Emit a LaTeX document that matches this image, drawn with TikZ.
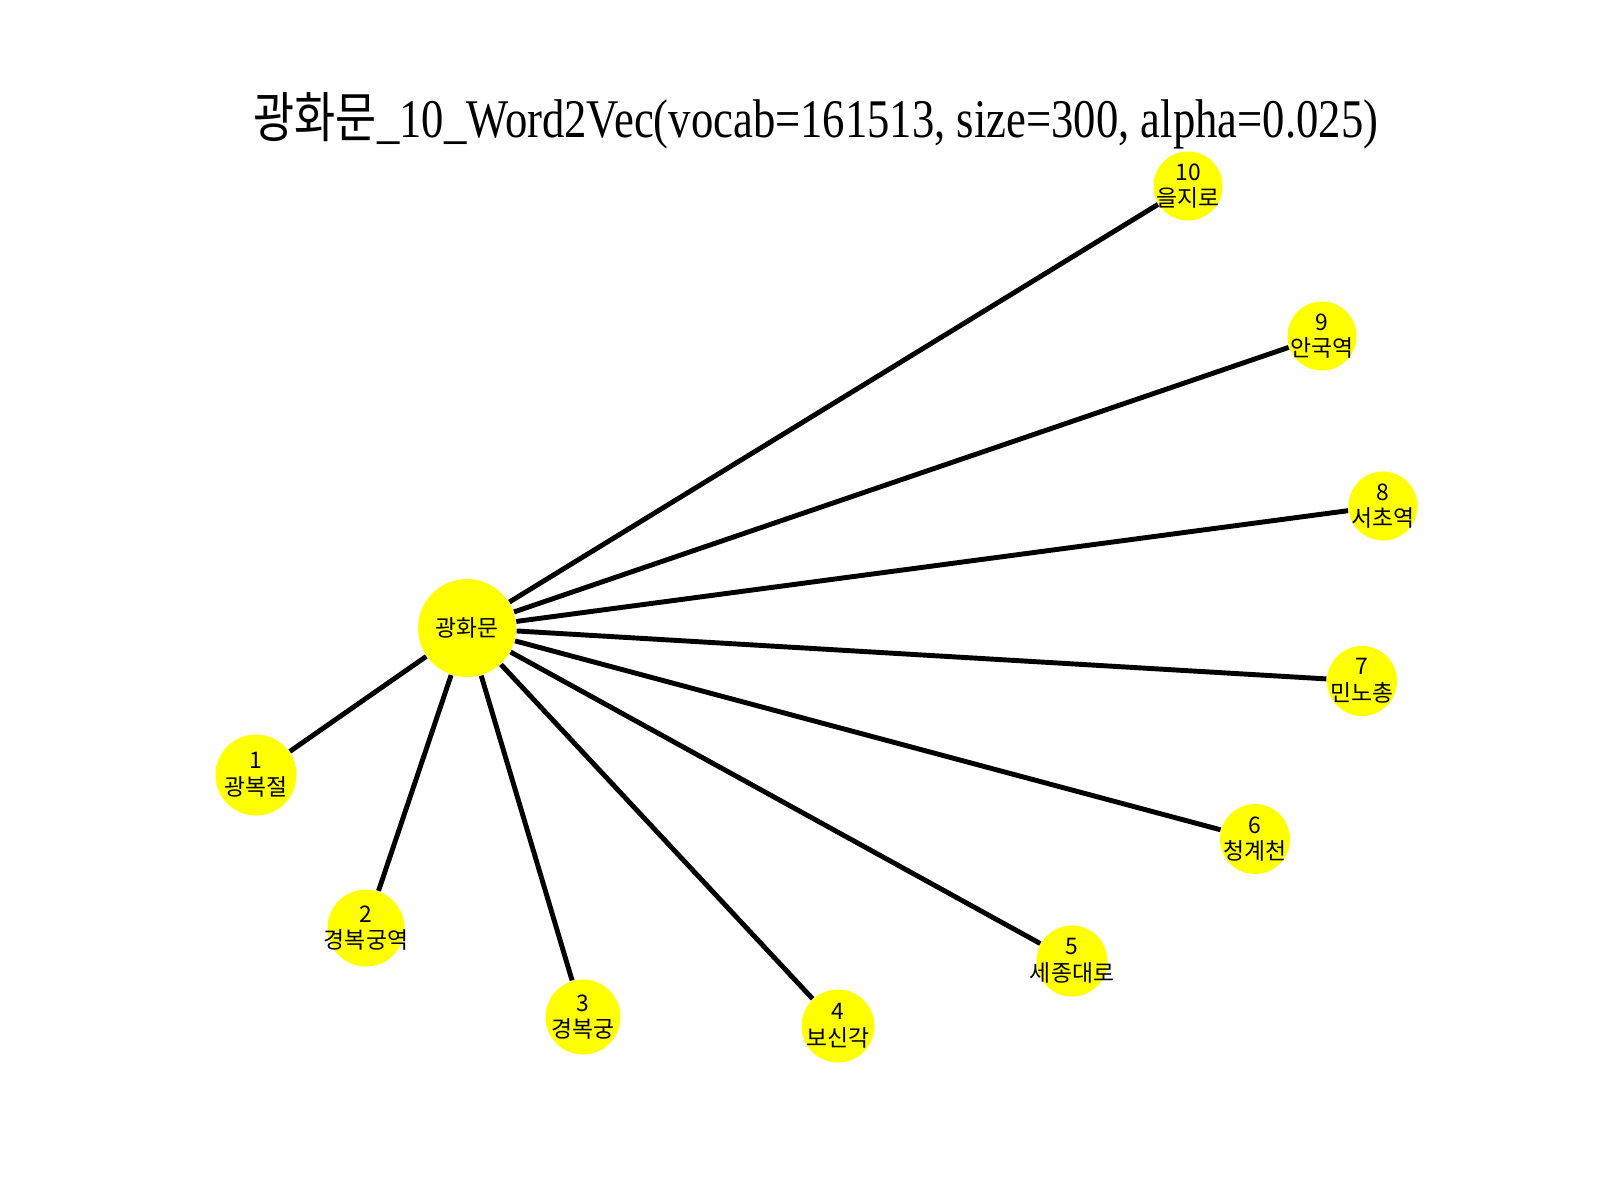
\documentclass[tikz,border=0pt]{standalone}
\usepackage{fontspec}
\setmainfont{Liberation Serif}
\newfontfamily\krsans{Noto Sans CJK KR}
\newfontfamily\titlefont[FakeStretch=0.82]{Liberation Serif}
\newfontfamily\titlekr[FakeStretch=0.82]{Noto Sans CJK KR}
\definecolor{lemon}{rgb}{1, 1, 0}

\begin{document}
\begin{tikzpicture}[
    word/.style={circle, fill=lemon, minimum size=#1, inner sep=0pt},
    hub/.style={circle, fill=lemon, minimum size=0.98cm, inner sep=0pt, font=\krsans\fontsize{6.5}{7.6}\selectfont},
    tag/.style={align=center, inner sep=0pt, font=\krsans\fontsize{6.5}{7.6}\selectfont},
    link/.style={line width=1.4pt}
  ]
      \useasboundingbox (0,0) rectangle (16,-12);
      \node[anchor=base] (title) at (8.16,-1.37) {\fontsize{15.5}{18}\selectfont\titlekr 광화문\titlefont\_10\_Word2Vec(vocab=161513, size=300, alpha=0.025)};

      \node[hub] (g) at (4.67,-6.28) {광화문};
      \node[word=0.81cm, label={[tag]center:1\\광복절}] (1) at (2.56,-7.75) {};
      \node[word=0.77cm, label={[tag]center:2\\경복궁역}] (2) at (3.66,-9.28) {};
      \node[word=0.75cm, label={[tag]center:3\\경복궁}] (3) at (5.83,-10.17) {};
      \node[word=0.73cm, label={[tag]center:4\\보신각}] (4) at (8.38,-10.26) {};
      \node[word=0.71cm, label={[tag]center:5\\세종대로}] (5) at (10.72,-9.61) {};
      \node[word=0.70cm, label={[tag]center:6\\청계천}] (6) at (12.55,-8.39) {};
      \node[word=0.70cm, label={[tag]center:7\\민노총}] (7) at (13.62,-6.81) {};
      \node[word=0.69cm, label={[tag]center:8\\서초역}] (8) at (13.83,-5.06) {};
      \node[word=0.69cm, label={[tag]center:9\\안국역}] (9) at (13.22,-3.36) {};
      \node[word=0.69cm, label={[tag]center:10\\을지로}] (10) at (11.88,-1.86) {};

      \foreach \i in {1,...,10} {
          \draw[link] (g) -- (\i);
      }
\end{tikzpicture}
\end{document}
